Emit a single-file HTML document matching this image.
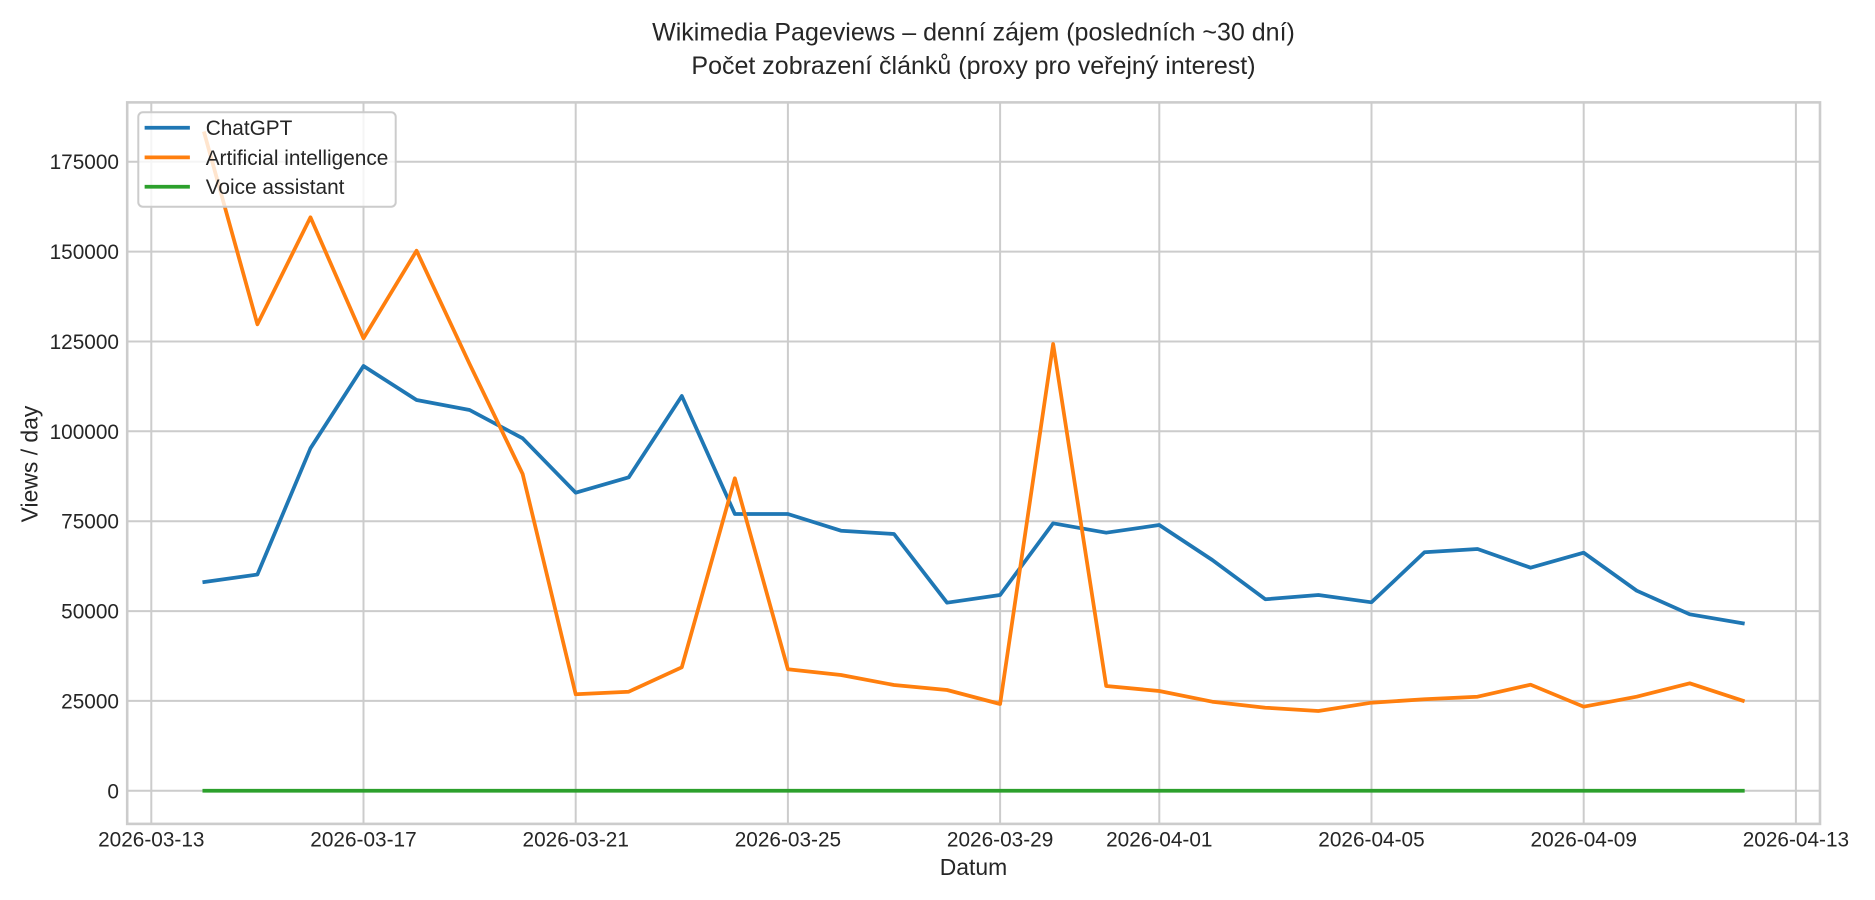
<!DOCTYPE html>
<html>
<head>
<meta charset="utf-8">
<style>
html,body{margin:0;padding:0;background:#fff;}
svg{display:block;}
text{font-family:"Liberation Sans",Arial,sans-serif;fill:#262626;}
</style>
</head>
<body>
<svg width="1875" height="900" viewBox="0 0 1875 900" xmlns="http://www.w3.org/2000/svg">
<rect x="0" y="0" width="1875" height="900" fill="#ffffff"/>

<!-- Title -->
<text x="973.5" y="40.7" font-size="25" text-anchor="middle">Wikimedia Pageviews – denní zájem (posledních ~30 dní)</text>
<text x="973.5" y="74" font-size="25" text-anchor="middle">Počet zobrazení článků (proxy pro veřejný interest)</text>

<!-- Grid -->
<g stroke="#cccccc" stroke-width="2" fill="none">
  <line x1="127" x2="1820" y1="790.8" y2="790.8"/>
  <line x1="127" x2="1820" y1="700.9" y2="700.9"/>
  <line x1="127" x2="1820" y1="611.1" y2="611.1"/>
  <line x1="127" x2="1820" y1="521.2" y2="521.2"/>
  <line x1="127" x2="1820" y1="431.3" y2="431.3"/>
  <line x1="127" x2="1820" y1="341.5" y2="341.5"/>
  <line x1="127" x2="1820" y1="251.6" y2="251.6"/>
  <line x1="127" x2="1820" y1="161.7" y2="161.7"/>

  <line y1="102.3" y2="824" x1="151.3" x2="151.3"/>
  <line y1="102.3" y2="824" x1="363.5" x2="363.5"/>
  <line y1="102.3" y2="824" x1="575.7" x2="575.7"/>
  <line y1="102.3" y2="824" x1="787.9" x2="787.9"/>
  <line y1="102.3" y2="824" x1="1000.1" x2="1000.1"/>
  <line y1="102.3" y2="824" x1="1159.3" x2="1159.3"/>
  <line y1="102.3" y2="824" x1="1371.5" x2="1371.5"/>
  <line y1="102.3" y2="824" x1="1583.7" x2="1583.7"/>
  <line y1="102.3" y2="824" x1="1795.9" x2="1795.9"/>
</g>

<!-- Spines -->
<rect x="127.2" y="102.4" width="1692.8" height="721.5" fill="none" stroke="#cccccc" stroke-width="2.6"/>

<!-- Series -->
<g fill="none" stroke-width="3.75" stroke-linejoin="round" stroke-linecap="square">
  <polyline stroke="#1f77b4" points="204.35,582 257.4,574.5 310.45,448.3 363.5,366 416.55,400 469.6,410 522.65,438.3 575.7,492.7 628.75,477.3 681.8,396 734.85,514 787.9,514 840.95,530.7 894,534 947.05,602.7 1000.1,595 1053.15,523.3 1106.2,532.7 1159.25,525 1212.3,560 1265.35,599.3 1318.4,595 1371.45,602.3 1424.5,552.3 1477.55,549 1530.6,567.7 1583.65,552.7 1636.7,590.7 1689.75,614.3 1742.8,623.3"/>
  <polyline stroke="#ff7f0e" points="204.35,133.3 257.4,324.3 310.45,217.3 363.5,338.3 416.55,250.7 469.6,364 522.65,474 575.7,694.3 628.75,691.7 681.8,667.3 734.85,478.3 787.9,669.3 840.95,675 894,685 947.05,690 1000.1,704 1053.15,344 1106.2,686 1159.25,691 1212.3,701.7 1265.35,707.7 1318.4,711 1371.45,702.7 1424.5,699.3 1477.55,696.7 1530.6,684.7 1583.65,706.7 1636.7,696.7 1689.75,683.3 1742.8,700.7"/>
  <polyline stroke="#2ca02c" points="204.35,790.8 1742.8,790.8"/>
</g>

<!-- Y tick labels -->
<g font-size="20.8" text-anchor="end">
  <text x="119" y="798.3">0</text>
  <text x="119" y="708.4">25000</text>
  <text x="119" y="618.6">50000</text>
  <text x="119" y="528.7">75000</text>
  <text x="119" y="438.8">100000</text>
  <text x="119" y="349">125000</text>
  <text x="119" y="259.1">150000</text>
  <text x="119" y="169.2">175000</text>
</g>

<!-- X tick labels -->
<g font-size="20.8" text-anchor="middle">
  <text x="151.3" y="846.7">2026-03-13</text>
  <text x="363.5" y="846.7">2026-03-17</text>
  <text x="575.7" y="846.7">2026-03-21</text>
  <text x="787.9" y="846.7">2026-03-25</text>
  <text x="1000.1" y="846.7">2026-03-29</text>
  <text x="1159.3" y="846.7">2026-04-01</text>
  <text x="1371.5" y="846.7">2026-04-05</text>
  <text x="1583.7" y="846.7">2026-04-09</text>
  <text x="1795.9" y="846.7">2026-04-13</text>
</g>

<!-- Axis labels -->
<text x="973.5" y="875" font-size="22.9" text-anchor="middle">Datum</text>
<text transform="translate(37.5,464) rotate(-90)" font-size="22.9" text-anchor="middle">Views / day</text>

<!-- Legend -->
<rect x="138.3" y="112.3" width="257.4" height="94.4" rx="4.5" ry="4.5" fill="#ffffff" fill-opacity="0.8" stroke="#cccccc" stroke-width="2"/>
<g stroke-width="3.75" stroke-linecap="square">
  <line x1="146.5" x2="188" y1="127.7" y2="127.7" stroke="#1f77b4"/>
  <line x1="146.5" x2="188" y1="157.4" y2="157.4" stroke="#ff7f0e"/>
  <line x1="146.5" x2="188" y1="186.7" y2="186.7" stroke="#2ca02c"/>
</g>
<g font-size="20.8">
  <text x="205.7" y="135.2">ChatGPT</text>
  <text x="205.7" y="164.9">Artificial intelligence</text>
  <text x="205.7" y="194.2">Voice assistant</text>
</g>
</svg>
</body>
</html>
